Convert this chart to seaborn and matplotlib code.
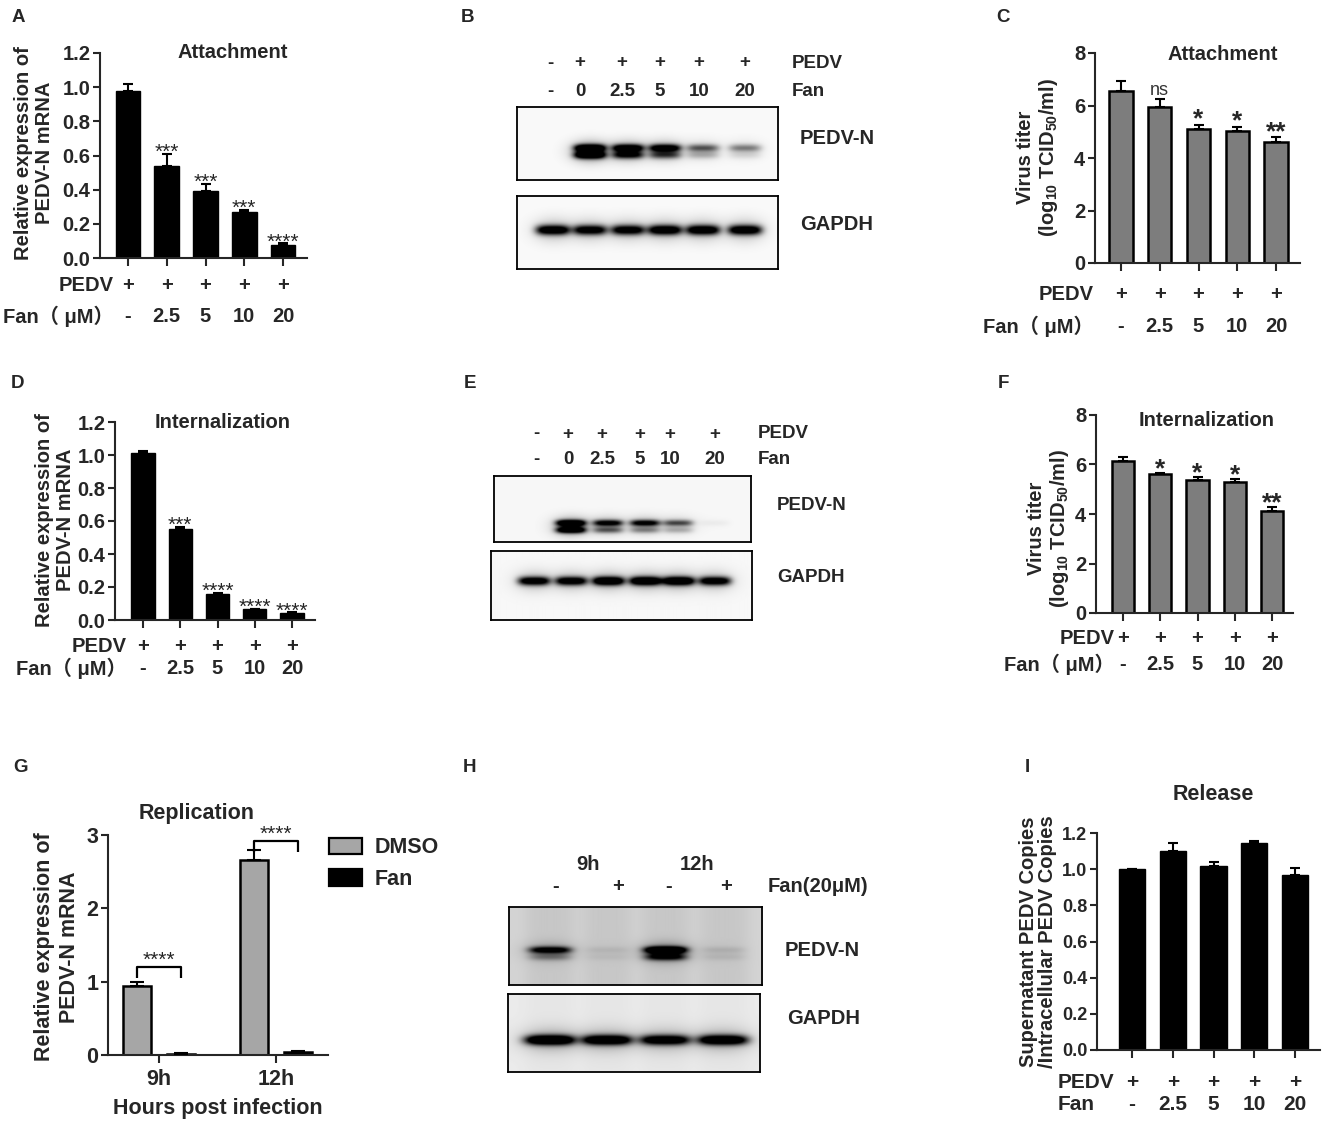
import numpy as np
import pandas as pd
import matplotlib
matplotlib.use('Agg')
import matplotlib.pyplot as plt
import seaborn as sns
from matplotlib.transforms import blended_transform_factory
from matplotlib.patches import Patch

# ---------------- data ----------------
fan_doses = ['-', '2.5', '5', '10', '20']
pedv_signs = ['+', '+', '+', '+', '+']

attach_mrna = [0.98, 0.54, 0.39, 0.27, 0.074]
attach_mrna_err = [0.04, 0.07, 0.045, 0.012, 0.012]
attach_mrna_sig = ['', '***', '***', '***', '****']

attach_titer = [6.54, 5.94, 5.12, 5.04, 4.61]
attach_titer_err = [0.41, 0.31, 0.15, 0.16, 0.19]
attach_titer_sig = ['', 'ns', '*', '*', '**']

intern_mrna = [1.01, 0.553, 0.16, 0.064, 0.044]
intern_mrna_err = [0.012, 0.01, 0.003, 0.004, 0.003]
intern_mrna_sig = ['', '***', '****', '****', '****']

intern_titer = [6.14, 5.62, 5.38, 5.30, 4.14]
intern_titer_err = [0.15, 0.05, 0.13, 0.13, 0.16]
intern_titer_sig = ['', '*', '*', '*', '**']

rep_times = ['9h', '12h']
rep_groups = ['DMSO', 'Fan']
rep_dmso = [0.94, 2.66]
rep_dmso_err = [0.06, 0.13]
rep_fan = [0.02, 0.045]
rep_fan_err = [0.005, 0.01]
rep_sig = ['****', '****']

release_ratio = [1.0, 1.103, 1.017, 1.142, 0.965]
release_err = [0.0, 0.042, 0.025, 0.015, 0.041]

# western blots: band intensities per lane (0 = no band, >=1 = saturated)
blotB_pedv = ['-', '+', '+', '+', '+', '+']
blotB_fan = ['-', '0', '2.5', '5', '10', '20']
blotB_n_upper = [0.0, 1.3, 1.15, 1.1, 0.55, 0.42]
blotB_n_lower = [0.0, 1.3, 0.85, 0.6, 0.22, 0.1]
blotB_gapdh = [1.15, 1.05, 1.05, 1.15, 1.15, 1.15]

blotE_pedv = ['-', '+', '+', '+', '+', '+']
blotE_fan = ['-', '0', '2.5', '5', '10', '20']
blotE_n_upper = [0.0, 1.3, 0.95, 0.95, 0.6, 0.04]
blotE_n_lower = [0.0, 1.2, 0.5, 0.35, 0.22, 0.0]
blotE_gapdh = [1.1, 1.1, 1.3, 1.3, 1.3, 1.1]

blotH_times = ['9h', '12h']
blotH_fan = ['-', '+', '-', '+']
blotH_n_upper = [0.85, 0.06, 1.3, 0.08]
blotH_n_lower = [0.25, 0.04, 0.7, 0.06]
blotH_gapdh = [1.3, 1.2, 1.1, 1.2]

# ---------------- style ----------------
sns.set_style('ticks')
FONT = ['Liberation Sans', 'Noto Sans CJK SC', 'DejaVu Sans']
plt.rcParams['font.family'] = FONT
plt.rcParams['font.weight'] = 'bold'
plt.rcParams['mathtext.default'] = 'regular'
plt.rcParams['axes.linewidth'] = 1.5

W, H = 1325, 1125
fig = plt.figure(figsize=(W / 100, H / 100), dpi=100)
fig.patch.set_facecolor('white')


def fx(x):
    return x / W


def fy(y):
    return 1 - y / H


def add_axes_px(x0, y0, x1, y1):
    return fig.add_axes([fx(x0), fy(y1), (x1 - x0) / W, (y1 - y0) / H])


def ftext(x, y, s, **kw):
    kw.setdefault('fontweight', 'bold')
    kw.setdefault('ha', 'center')
    kw.setdefault('va', 'center')
    fig.text(fx(x), fy(y), s, **kw)


def style_axes(ax, yticks, fmt, tick_fs=14.5):
    sns.despine(ax=ax)
    ax.set_xlabel('')
    ax.set_ylabel('')
    ax.set_yticks(yticks)
    ax.set_yticklabels([fmt.format(t) for t in yticks], fontsize=tick_fs, fontweight='bold')
    ax.tick_params(axis='y', direction='out', length=5, width=1.5, pad=2)
    ax.tick_params(axis='x', direction='out', length=6, width=1.5, labelbottom=False)
    ax.set_facecolor('none')


def bar_panel(box, c0, step, ymax, values, errs, color, edge_lw, width, yticks, fmt,
              sigs, sig_fs, sig_weight, sig_off, cap, tick_fs=14.5):
    left, top, bottom, right = box
    ax = add_axes_px(left, top, right, bottom)
    df = pd.DataFrame({'fan': fan_doses, 'val': values})
    sns.barplot(data=df, x='fan', y='val', order=fan_doses, color=color, saturation=1,
                edgecolor='black', linewidth=edge_lw, width=width, errorbar=None, ax=ax)
    xs = np.arange(len(values))
    ax.errorbar(xs, values, yerr=[np.zeros(len(errs)), errs], fmt='none', ecolor='black',
                elinewidth=1.5, capsize=cap, capthick=1.5, zorder=3)
    ax.set_xlim((left - c0) / step, (right - c0) / step)
    ax.set_ylim(0, ymax)
    style_axes(ax, yticks, fmt, tick_fs=tick_fs)
    if sigs is not None:
        for i, s in enumerate(sigs):
            if not s:
                continue
            if s == 'ns':
                ax.annotate(s, (i, values[i] + errs[i]), xytext=(0, 3), textcoords='offset points',
                            ha='center', va='baseline', fontsize=13, fontweight='normal', color='#333333')
            else:
                ax.annotate(s, (i, values[i] + errs[i]), xytext=(0, sig_off), textcoords='offset points',
                            ha='center', va='baseline', fontsize=sig_fs, fontweight=sig_weight)
    return ax


def rows_below(ax, rows, label_x, label_ha, fs=14.5):
    tr = blended_transform_factory(ax.transData, fig.transFigure)
    for label, items, y in rows:
        ftext(label_x, y, label, ha=label_ha, fontsize=fs)
        for i, s in enumerate(items):
            ax.text(i, fy(y), s, transform=tr, ha='center', va='center', fontsize=fs, fontweight='bold')


def draw_blot(rect, lanes_x, bands, background, lane_smear=0.0):
    x0, y0, x1, y1 = rect
    ax = add_axes_px(x0, y0, x1, y1)
    xs = np.arange(x0, x1, 0.5) + 0.25
    ys = np.arange(y0, y1, 0.5) + 0.25
    X, Y = np.meshgrid(xs, ys)
    img = np.full(X.shape, background, dtype=float)
    if lane_smear:
        for cx in lanes_x:
            img += lane_smear * np.exp(-((X - cx) / (lanes_x[1] - lanes_x[0]) / 0.45) ** 4)
    for cy, intens, hw, sy in bands:
        for cx, a in zip(lanes_x, intens):
            core = np.exp(-((X - cx) / hw) ** 4) * np.exp(-0.5 * ((Y - cy) / sy) ** 2)
            halo = np.exp(-((X - cx) / (hw * 1.15)) ** 2) * np.exp(-0.5 * ((Y - cy) / (sy * 2.6)) ** 2)
            img += a * core + 0.18 * a * halo
    img = np.clip(img, 0, 1)
    ax.imshow(img, cmap='gray_r', vmin=0, vmax=1, extent=(x0, x1, y1, y0), aspect='auto',
              interpolation='bilinear')
    ax.set_xlim(x0, x1)
    ax.set_ylim(y1, y0)
    ax.set_xticks([])
    ax.set_yticks([])
    for sp in ax.spines.values():
        sp.set_visible(True)
        sp.set_linewidth(1.3)
        sp.set_color('black')
    return ax


FAN_LABEL = 'Fan\uff08 \u03bcM\uff09'
GREY_DARK = '#7d7d7d'
GREY_LIGHT = '#a6a6a6'
A_FMT = '{:.1f}'
I_FMT = '{:.0f}'

# ---------------- Panel A ----------------
axA = bar_panel((100, 53, 258, 307), 128, 38.75, 1.2, attach_mrna, attach_mrna_err, 'black', 1.0, 0.645,
                [0, 0.2, 0.4, 0.6, 0.8, 1.0, 1.2], A_FMT, attach_mrna_sig, 15, 'normal', -3, 3.6)
rows_below(axA, [('PEDV', pedv_signs, 285), (FAN_LABEL, fan_doses, 316)], 114, 'right')
ftext(233, 53, 'Attachment', fontsize=14.5)
ftext(34, 153, 'Relative expression of\nPEDV-N mRNA', rotation=90, fontsize=14.5, linespacing=1.1,
      multialignment='center')

# ---------------- Panel C ----------------
axC = bar_panel((1095, 53, 263, 1300), 1121, 38.75, 8, attach_titer, attach_titer_err, GREY_DARK, 1.8, 0.6,
                [0, 2, 4, 6, 8], I_FMT, attach_titer_sig, 19, 'bold', -1.5, 3.6)
rows_below(axC, [('PEDV', pedv_signs, 295), (FAN_LABEL, fan_doses, 326)], 1094, 'right')
ftext(1223, 55, 'Attachment', fontsize=14.5)
ftext(1038, 157, 'Virus titer\n(log$_{10}$ TCID$_{50}$/ml)', rotation=90, fontsize=14.5, linespacing=1.1,
      multialignment='center')

# ---------------- Panel D ----------------
axD = bar_panel((115, 422, 620, 315), 143, 37.25, 1.2, intern_mrna, intern_mrna_err, 'black', 1.0, 0.62,
                [0, 0.2, 0.4, 0.6, 0.8, 1.0, 1.2], A_FMT, intern_mrna_sig, 15, 'normal', -3, 3.6)
rows_below(axD, [('PEDV', pedv_signs, 646), (FAN_LABEL, fan_doses, 668)], 127, 'right')
ftext(223, 422, 'Internalization', fontsize=14.5)
ftext(55, 520, 'Relative expression of\nPEDV-N mRNA', rotation=90, fontsize=14.5, linespacing=1.1,
      multialignment='center')

# ---------------- Panel F ----------------
axF = bar_panel((1096, 415, 613, 1293), 1123, 37.25, 8, intern_titer, intern_titer_err, GREY_DARK, 1.8, 0.6,
                [0, 2, 4, 6, 8], I_FMT, intern_titer_sig, 19, 'bold', -2.5, 3.6)
rows_below(axF, [('PEDV', pedv_signs, 638), (FAN_LABEL, fan_doses, 664)], 1115, 'right')
ftext(1207, 421, 'Internalization', fontsize=14.5)
ftext(1049, 528, 'Virus titer\n(log$_{10}$ TCID$_{50}$/ml)', rotation=90, fontsize=14.5, linespacing=1.1,
      multialignment='center')

# ---------------- Panel G ----------------
gl, gt, gb, gr = 108, 835, 1055, 328
axG = add_axes_px(gl, gt, gr, gb)
df_rep = pd.DataFrame({'time': rep_times * 2,
                       'group': [rep_groups[0]] * 2 + [rep_groups[1]] * 2,
                       'val': rep_dmso + rep_fan})
sns.barplot(data=df_rep, x='time', y='val', hue='group', order=rep_times, hue_order=rep_groups,
            palette=[GREY_LIGHT, 'black'], saturation=1, width=0.75, gap=0.36, edgecolor='black',
            linewidth=1.8, errorbar=None, legend=False, ax=axG)
off = 0.1875
xg = np.arange(len(rep_times))
axG.errorbar(xg - off, rep_dmso, yerr=[np.zeros(2), rep_dmso_err], fmt='none', ecolor='black',
             elinewidth=1.5, capsize=4.7, capthick=1.5, zorder=3)
axG.errorbar(xg + off, rep_fan, yerr=[np.zeros(2), rep_fan_err], fmt='none', ecolor='black',
             elinewidth=1.5, capsize=4.7, capthick=1.5, zorder=3)
axG.set_xlim((gl - 159) / 117, (gr - 159) / 117)
axG.set_ylim(0, 3)
style_axes(axG, [0, 1, 2, 3], I_FMT, tick_fs=15.5)
axG.tick_params(axis='x', labelbottom=True, labelsize=15.5, pad=4)
axG.set_xticks(xg)
axG.set_xticklabels(rep_times, fontweight='bold', fontsize=15.5)
for i in range(len(rep_times)):
    hi = rep_dmso[i] + 0.26 if i == 0 else rep_dmso[i] + rep_dmso_err[i] + 0.13
    axG.plot([i - off, i - off, i + off, i + off], [hi - 0.15, hi, hi, hi - 0.15], color='black', lw=1.6,
             clip_on=False, solid_capstyle='butt')
    axG.annotate(rep_sig[i], (i, hi), xytext=(0, 1), textcoords='offset points', ha='center',
                 va='baseline', fontsize=15, fontweight='normal', annotation_clip=False)
axG.set_xlabel('Hours post infection', fontsize=15.5, fontweight='bold', labelpad=6)
ftext(197, 813, 'Replication', fontsize=15.5)
ftext(57, 947, 'Relative expression of\nPEDV-N mRNA', rotation=90, fontsize=15.5, linespacing=1.25,
      multialignment='center')
handles = [Patch(facecolor=GREY_LIGHT, edgecolor='black', linewidth=1.6, label=rep_groups[0]),
           Patch(facecolor='black', edgecolor='black', linewidth=1.6, label=rep_groups[1])]
axG.legend(handles=handles, loc='upper left', bbox_to_anchor=(fx(310), fy(818)),
           bbox_transform=fig.transFigure, frameon=False, handlelength=1.5, handleheight=0.8,
           handletextpad=0.6, labelspacing=0.5, prop={'weight': 'bold', 'size': 15.5})

# ---------------- Panel I ----------------
axI = bar_panel((1097, 833, 1050, 1320), 1132, 40.75, 1.2, release_ratio, release_err, 'black', 1.0, 0.64,
                [0, 0.2, 0.4, 0.6, 0.8, 1.0, 1.2], A_FMT, None, 12, 'normal', 0, 3.6, tick_fs=13)
rows_below(axI, [('PEDV', pedv_signs, 1082), ('Fan', fan_doses, 1105)], 1058, 'left', fs=15)
ftext(1213, 795, 'Release', fontsize=15.5)
ftext(1038, 942, 'Supernatant PEDV Copies\n/Intracellular PEDV Copies', rotation=90, fontsize=14.5,
      linespacing=1.05, multialignment='center')

# ---------------- Panel B (western blot) ----------------
b_lanes = [553, 590, 628, 665, 703, 745]
draw_blot((517, 107, 778, 180), b_lanes,
          [(148, blotB_n_upper, 16, 2.6), (155, blotB_n_lower, 16, 2.6)], 0.02)
draw_blot((517, 196, 778, 269), b_lanes, [(230, blotB_gapdh, 17, 3.4)], 0.02)
b_head = [550, 580, 622, 660, 699, 745]
for x, s1, s2 in zip(b_head, blotB_pedv, blotB_fan):
    ftext(x, 63, s1, fontsize=13.5)
    ftext(x, 91, s2, fontsize=13.5)
ftext(792, 63, 'PEDV', ha='left', fontsize=13.5)
ftext(792, 91, 'Fan', ha='left', fontsize=13.5)
ftext(800, 138, 'PEDV-N', ha='left', fontsize=14.5)
ftext(800, 225, 'GAPDH', ha='left', fontsize=14.5)

# ---------------- Panel E (western blot) ----------------
e_lanes = [534, 571, 608, 645, 678, 714]
draw_blot((494, 476, 751, 542), e_lanes,
          [(523, blotE_n_upper, 15, 2.2), (530, blotE_n_lower, 15, 2.2)], 0.03)
draw_blot((491, 551, 752, 620), e_lanes, [(581, blotE_gapdh, 16, 3.0)], 0.03)
e_head = [536, 568, 602, 640, 670, 715]
for x, s1, s2 in zip(e_head, blotE_pedv, blotE_fan):
    ftext(x, 434, s1, fontsize=13.5)
    ftext(x, 460, s2, fontsize=13.5)
ftext(758, 434, 'PEDV', ha='left', fontsize=13.5)
ftext(758, 460, 'Fan', ha='left', fontsize=13.5)
ftext(777, 505, 'PEDV-N', ha='left', fontsize=13.5)
ftext(777, 578, 'GAPDH', ha='left', fontsize=13.5)

# ---------------- Panel H (western blot) ----------------
h_lanes = [550, 607, 665, 723]
draw_blot((509, 907, 762, 985), h_lanes,
          [(950, blotH_n_upper, 21, 2.4), (957, blotH_n_lower, 21, 2.4)], 0.17, lane_smear=0.05)
draw_blot((508, 994, 760, 1072), h_lanes, [(1040, blotH_gapdh, 25, 3.4)], 0.08, lane_smear=0.02)
for x, s in zip([588, 697], blotH_times):
    ftext(x, 865, s, fontsize=14.5)
for x, s in zip([556, 618, 669, 726], blotH_fan):
    ftext(x, 887, s, fontsize=14.5)
ftext(768, 887, 'Fan(20\u03bcM)', ha='left', fontsize=14.5)
ftext(785, 950, 'PEDV-N', ha='left', fontsize=14.5)
ftext(787, 1018, 'GAPDH', ha='left', fontsize=14.5)

# ---------------- panel letters ----------------
for letter, x, y in [('A', 18, 18), ('B', 467, 18), ('C', 1003, 18), ('D', 18, 383), ('E', 470, 383),
                     ('F', 1003, 383), ('G', 20, 768), ('H', 470, 768), ('I', 1027, 768)]:
    ftext(x, y, letter, fontsize=13.5)

fig.savefig('out.png', dpi=100, facecolor='white')
